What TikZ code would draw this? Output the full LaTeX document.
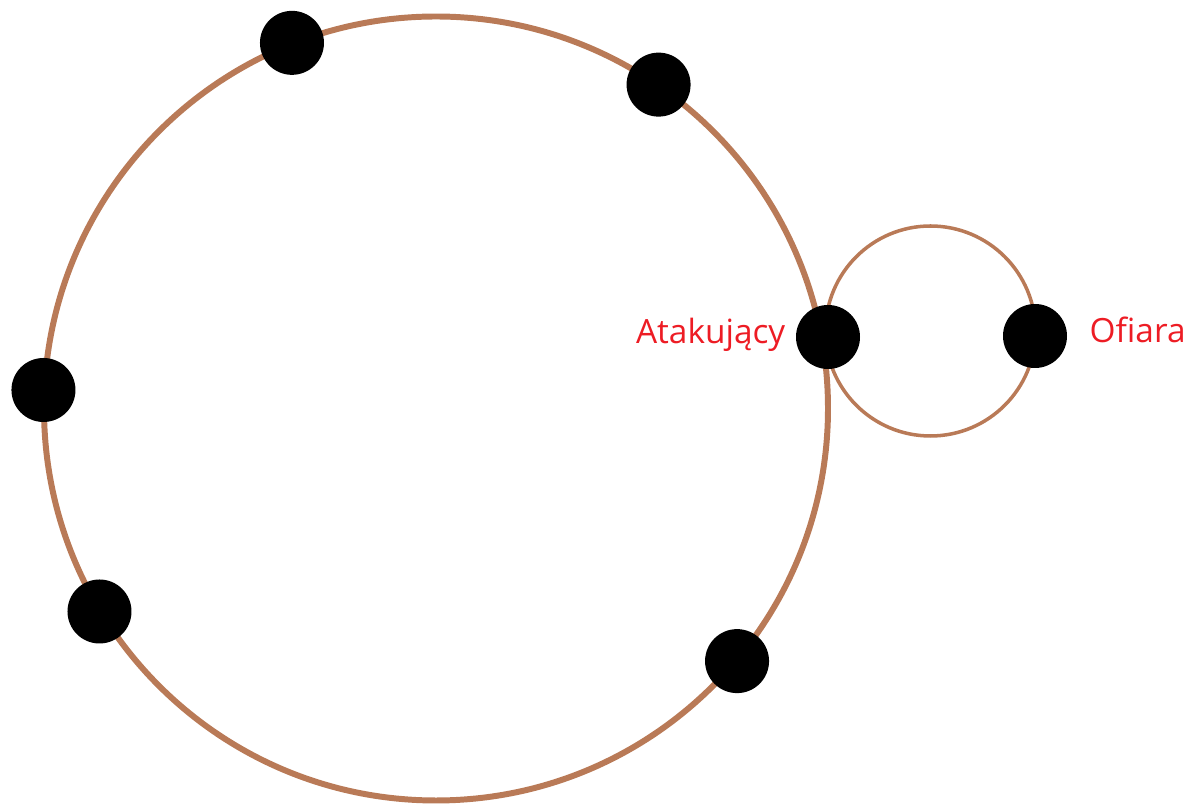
\documentclass[tikz,border=0pt]{standalone}
\usepackage{fontspec}
\setmainfont{Open Sans}
\usetikzlibrary{positioning,calc}

\definecolor{ringbrown}{RGB}{185,122,87}
\definecolor{paintred}{RGB}{237,28,36}

\tikzset{
  dot/.style={circle,fill=black,minimum size=1.28cm,inner sep=0pt},
  lbl/.style={text=paintred,font=\fontsize{19}{22}\selectfont,inner sep=0pt,text height=0.95em,text depth=0.26em}
}

\begin{document}
\begin{tikzpicture}

\useasboundingbox (0,0) rectangle (23.72,16.08);

% ring of peers
\coordinate (c) at (8.72,7.91);
\draw [ringbrown,line width=3.4pt] (c) circle (7.84);

% small ring
\draw [ringbrown,line width=2pt] (18.61,9.46) circle (2.1);

\foreach \a/\n in {111.5/p1,55.5/p2,177.3/p3,211.1/p4,-40/p5}
  \node[dot] (\n) at ($(c)+(\a:7.86)$) {};

\node[dot] (att) at (16.56,9.34) {};
\node[dot] (vic) at (20.7,9.36) {};

\node[lbl,left=0.2cm of att] (attlbl) {Atakujący};
\node[lbl,right=0.44cm of vic] (viclbl) {Ofiara};

\end{tikzpicture}
\end{document}
